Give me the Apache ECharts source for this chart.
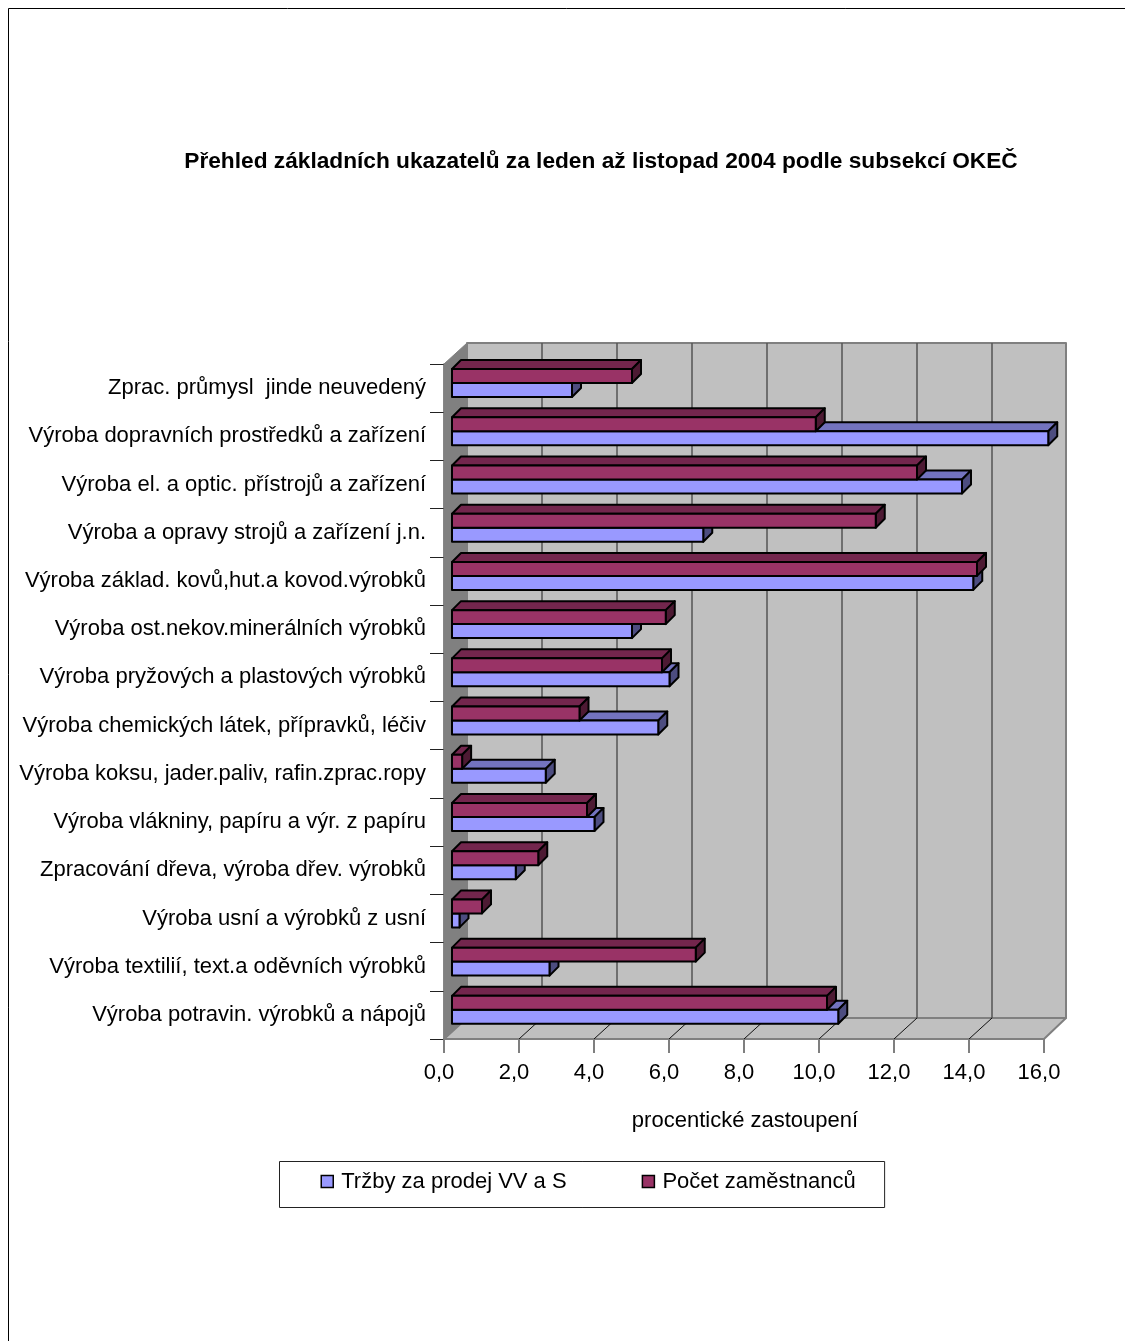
<!DOCTYPE html>
<html><head><meta charset="utf-8">
<style>html,body{margin:0;padding:0;background:#fff}#c{width:1125px;height:1341px}</style>
<script src="https://cdn.jsdelivr.net/npm/echarts@6/dist/echarts.min.js"></script>
</head><body><div id="c"></div>
<script>
const categories = ["Výroba potravin. výrobků a nápojů","Výroba textilií, text.a oděvních výrobků","Výroba usní a výrobků z usní","Zpracování dřeva, výroba dřev. výrobků","Výroba vlákniny, papíru a výr. z papíru","Výroba koksu, jader.paliv, rafin.zprac.ropy","Výroba chemických látek, přípravků, léčiv","Výroba pryžových a plastových výrobků","Výroba ost.nekov.minerálních výrobků","Výroba základ. kovů,hut.a kovod.výrobků","Výroba a opravy strojů a zařízení j.n.","Výroba el. a optic. přístrojů a zařízení","Výroba dopravních prostředků a zařízení","Zprac. průmysl  jinde neuvedený"];
const trzby = [10.3,2.6,0.2,1.7,3.8,2.5,5.5,5.8,4.8,13.9,6.7,13.6,15.9,3.2];
const pocet = [10.0,6.5,0.8,2.3,3.6,0.27,3.4,5.6,5.7,14.0,11.3,12.4,9.7,4.8];
const ticks = [0,2,4,6,8,10,12,14,16];
const FONT = '"Liberation Sans", Arial, sans-serif';
const WD = 23, HD = 21;            // wall depth offset in px
const BO = 8, BD = 9;              // bar start inset, bar depth

function poly(pts, fill, stroke, lw){
  return {type:'polygon', shape:{points:pts}, style:{fill:fill, stroke:stroke, lineWidth:lw||0, lineJoin:'round'}};
}
function line(a,b,stroke,lw){
  return {type:'line', shape:{x1:a[0],y1:a[1],x2:b[0],y2:b[1]}, style:{stroke:stroke, lineWidth:lw}};
}
function wallItem(params, api){
  const c = params.coordSys, l=c.x, r=c.x+c.width, t=c.y, b=c.y+c.height;
  return {type:'group', children:[
    poly([[l+WD,t-HD],[r+WD-1,t-HD],[r+WD-1,b-HD],[l+WD,b-HD]],'#c0c0c0','#808080',2),
    poly([[l,b],[r,b],[r+WD-1,b-HD],[l+WD,b-HD]],'#c0c0c0','#808080',2),
    poly([[l,t],[l+WD,t-HD],[l+WD,b-HD],[l,b]],'#808080','#808080',1)
  ]};
}
function gridItem(params, api){
  const c = params.coordSys, t=c.y, b=c.y+c.height, x=api.coord([api.value(0),0])[0];
  const kids = [];
  if(x>c.x+1 && x<c.x+c.width-1){
    kids.push(line([x+WD,t-HD],[x+WD,b-HD],'#555555',1.5));
    kids.push(line([x,b],[x+WD,b-HD],'#111111',1));
  }
  return {type:'group', children:kids};
}
function barRenderer(color, top, side, isRed){
  return function(params, api){
    const p = api.coord([api.value(0), api.value(1)]);
    const z = api.coord([0, api.value(1)]);
    const band = api.size([0,1])[1];
    const h = band*0.29;
    const cy = p[1];
    const y0 = isRed ? cy-band*0.105-h : cy-band*0.105;
    const y1 = y0+h;
    const x0 = z[0]+BO, x1 = p[0]+BO;
    const S='#000000', W=2;
    return {type:'group', children:[
      poly([[x0,y0],[x1,y0],[x1+BD,y0-BD],[x0+BD,y0-BD]], top, S, W),
      poly([[x1,y0],[x1+BD,y0-BD],[x1+BD,y1-BD],[x1,y1]], side, S, W),
      poly([[x0,y0],[x1,y0],[x1,y1],[x0,y1]], color, S, W)
    ]};
  };
}
const pair = v => v.map((d,i)=>[d,i]);
const chart = echarts.init(document.getElementById('c'),null,{renderer:'canvas'});
chart.setOption({
  animation:false,
  backgroundColor:'#ffffff',
  textStyle:{fontFamily:FONT,color:'#000'},
  title:{text:'Přehled základních ukazatelů za leden až listopad 2004 podle subsekcí OKEČ',left:596,top:145,textAlign:'center',
    textStyle:{fontFamily:FONT,fontSize:22.7,fontWeight:'bold',color:'#000'}},
  grid:{left:444,top:364,width:600,height:675},
  xAxis:{type:'value',min:0,max:16,interval:2,
    name:'procentické zastoupení',nameLocation:'middle',nameGap:71,
    nameTextStyle:{fontFamily:FONT,fontSize:22,color:'#000',padding:[0,0,0,2]},
    axisLine:{show:true,lineStyle:{color:'#333333',width:1.5}},
    axisTick:{show:true,length:14,lineStyle:{color:'#555555',width:1.5}},
    axisLabel:{show:true,margin:23,fontFamily:FONT,fontSize:22,color:'#000',showMinLabel:true,showMaxLabel:true,padding:[0,10,0,0],
      formatter:v=>v.toFixed(1).replace('.',',')},
    splitLine:{show:false}},
  yAxis:{type:'category',data:categories,
    axisLine:{show:true,lineStyle:{color:'#666666',width:1.5}},
    axisTick:{show:true,length:14,alignWithLabel:false,lineStyle:{color:'#222222',width:1}},
    axisLabel:{show:true,margin:18,interval:0,fontFamily:FONT,fontSize:22,color:'#000'},
    splitLine:{show:false}},
  legend:{show:true,left:279.5,top:1161.5,orient:'horizontal',data:['Tržby za prodej VV a S','Počet zaměstnanců'],
    padding:[9,29,15,41],itemGap:75,itemWidth:12,itemHeight:12,icon:'rect',
    backgroundColor:'#fff',borderColor:'#222',borderWidth:1,borderRadius:0,
    itemStyle:{borderColor:'#000',borderWidth:1.5},
    textStyle:{fontFamily:FONT,fontSize:22,color:'#000',padding:[0,0,4,3]},selectedMode:false},
  graphic:[
    {type:'polyline',silent:true,z:0,shape:{points:[[8.5,1341],[8.5,8.5],[1125,8.5]]},style:{fill:'none',stroke:'#000',lineWidth:1}}
  ],
  series:[
    {type:'custom',name:'walls',silent:true,clip:false,z:1,renderItem:wallItem,data:[[0,0]],encode:{x:0,y:1}},
    {type:'custom',name:'grid',silent:true,clip:false,z:2,renderItem:gridItem,data:ticks.map(t=>[t,0]),encode:{x:0,y:1}},
    {type:'custom',name:'Tržby za prodej VV a S',silent:true,clip:false,z:3,itemStyle:{color:'#9999ff'},
      renderItem:barRenderer('#9999ff','#7373bf','#4d4d80',false),data:pair(trzby),encode:{x:0,y:1}},
    {type:'custom',name:'Počet zaměstnanců',silent:true,clip:false,z:4,itemStyle:{color:'#993366'},
      renderItem:barRenderer('#993366','#73264d','#4d1a33',true),data:pair(pocet),encode:{x:0,y:1}}
  ]
});
</script></body></html>
